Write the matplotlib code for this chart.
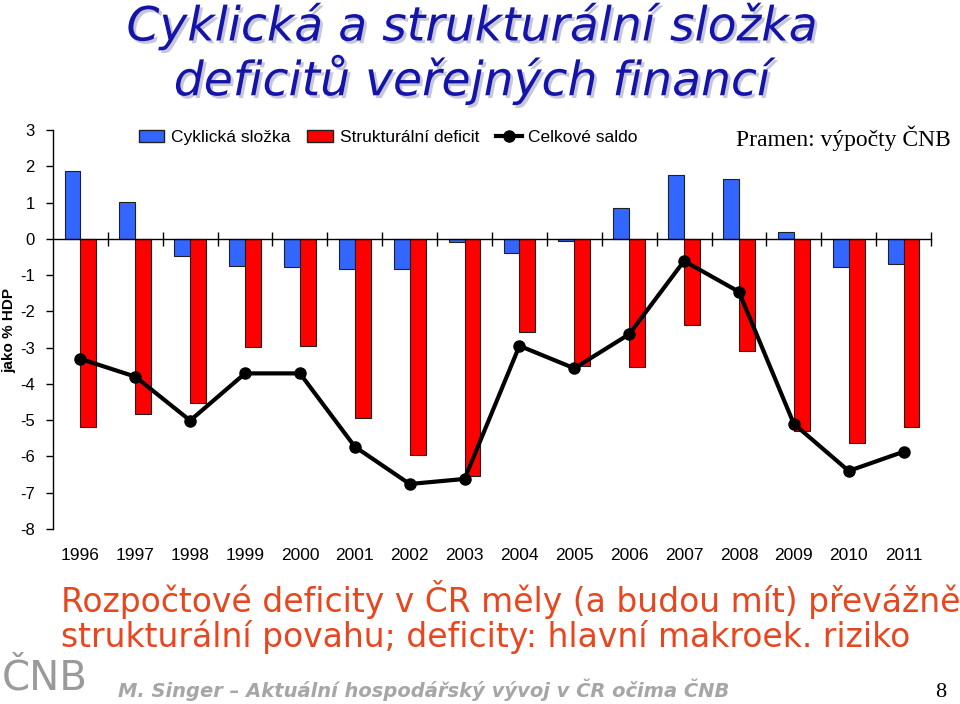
import matplotlib
matplotlib.use("Agg")
import matplotlib.pyplot as plt
import matplotlib.patheffects as pe
from matplotlib.patches import Patch
from matplotlib.lines import Line2D
import numpy as np

years = ["1996", "1997", "1998", "1999", "2000", "2001", "2002", "2003",
         "2004", "2005", "2006", "2007", "2008", "2009", "2010", "2011"]
cyklicka = [1.86, 1.02, -0.48, -0.74, -0.77, -0.82, -0.83, -0.08,
            -0.40, -0.07, 0.86, 1.75, 1.64, 0.18, -0.77, -0.70]
strukturalni = [-5.18, -4.82, -4.53, -2.97, -2.95, -4.93, -5.96, -6.54,
                -2.57, -3.51, -3.53, -2.37, -3.10, -5.30, -5.64, -5.18]
saldo = [-3.31, -3.80, -5.01, -3.71, -3.71, -5.73, -6.76, -6.62,
         -2.95, -3.57, -2.63, -0.61, -1.46, -5.10, -6.40, -5.87]

plt.rcParams['font.family'] = ['Liberation Sans', 'DejaVu Sans']

fig = plt.figure(figsize=(9.6, 7.04), dpi=100)
ax = fig.add_axes([0.0552, 0.2486, 0.9146, 0.5667])

x = np.arange(len(years))
w = 0.29
ax.bar(x - w / 2, cyklicka, w, color='#3366ff', edgecolor='#202020', linewidth=0.8, zorder=2)
ax.bar(x + w / 2, strukturalni, w, color='#ff0000', edgecolor='#202020', linewidth=0.8, zorder=2)
ax.plot(x, saldo, color='black', lw=3, marker='o', ms=8, zorder=3)

ax.set_xlim(-0.5, len(years) - 0.5)
ax.set_ylim(-8, 3)
ax.set_yticks(range(-8, 4))
ax.set_yticklabels([str(v) for v in range(-8, 4)], fontsize=12)
ax.tick_params(axis='y', direction='out', length=5, width=1, pad=8)

for s in ['top', 'right']:
    ax.spines[s].set_visible(False)
ax.spines['bottom'].set_position(('data', 0))
ax.spines['bottom'].set_linewidth(1)
ax.spines['left'].set_linewidth(1)
ax.set_xticks(np.arange(0.5, len(years), 1.0))
ax.set_xticklabels([])
ax.tick_params(axis='x', direction='inout', length=10, width=1)

for xi, yr in zip(x, years):
    ax.text(xi, -0.066, yr, transform=ax.get_xaxis_transform(),
            ha='center', va='center', fontsize=12.5)

fig.text(0.010, 0.531, 'jako % HDP', fontsize=11, fontweight='bold',
         rotation=90, ha='center', va='center')

handles = [Patch(facecolor='#3366ff', edgecolor='#202020'),
           Patch(facecolor='#ff0000', edgecolor='#202020'),
           Line2D([], [], color='black', lw=3, marker='o', ms=8)]
labels = ['Cyklická složka', 'Strukturální deficit', 'Celkové saldo']
fig.legend(handles, labels, loc='center left', bbox_to_anchor=(0.128, 0.805),
           ncol=3, frameon=False, fontsize=12.5, handlelength=1.45,
           handletextpad=0.4, columnspacing=1.0)

fig.text(0.767, 0.804, 'Pramen: výpočty ČNB', family='Liberation Serif',
         fontsize=17, va='center', ha='left')

shadow = [pe.withSimplePatchShadow(offset=(2, -2), shadow_rgbFace='#9090b8', alpha=0.5)]
fig.text(0.492, 0.962, 'Cyklická a strukturální složka', color='#1414a8',
         family='DejaVu Sans', style='italic', fontsize=34, ha='center', va='center',
         path_effects=shadow)
fig.text(0.492, 0.886, 'deficitů veřejných financí', color='#1414a8',
         family='DejaVu Sans', style='italic', fontsize=34, ha='center', va='center',
         path_effects=shadow)

fig.text(0.064, 0.148, 'Rozpočtové deficity v ČR měly (a budou mít) převážně',
         color='#e8461e', family='DejaVu Sans', fontsize=23.75, ha='left', va='center')
fig.text(0.064, 0.096, 'strukturální povahu; deficity: hlavní makroek. riziko',
         color='#e8461e', family='DejaVu Sans', fontsize=23.75, ha='left', va='center')

fig.text(0.002, 0.036, 'ČNB', color='#9a9a9a', family='DejaVu Sans',
         fontsize=29, ha='left', va='center')
fig.text(0.123, 0.02, 'M. Singer – Aktuální hospodářský vývoj v ČR očima ČNB',
         color='#a6a6a6', family='DejaVu Sans', style='italic', fontweight='bold',
         fontsize=14, ha='left', va='center')
fig.text(0.98, 0.016, '8', family='Liberation Serif', fontsize=16, ha='center', va='center')

fig.savefig('out.png', dpi=100)
